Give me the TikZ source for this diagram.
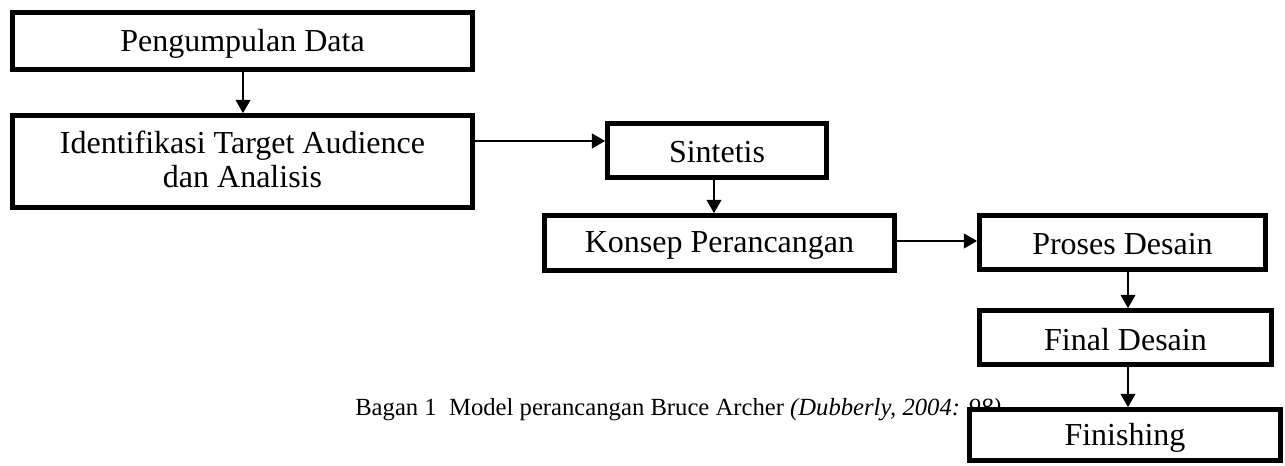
\documentclass[tikz,border=0pt]{standalone}
\usepackage{fontspec}
\setmainfont{Liberation Serif}
\usetikzlibrary{arrows.meta}
\newdimen\pxu \pxu=0.75pt
\newcommand{\lowertext}[2]{\raisebox{-#1\pxu}[\height][\depth]{#2}}
\begin{document}
\begin{tikzpicture}[x=0.75pt,y=-0.75pt,
  box/.style={draw=black,line width=3.5pt,fill=white,inner sep=0pt,align=center,
    font=\fontsize{24}{26}\selectfont},
  arr/.style={line width=1.5pt,-{Triangle[length=10pt,width=11pt]}},
  captext/.style={font=\fontsize{18.5}{20}\selectfont,inner sep=0pt,anchor=base west}]
\useasboundingbox[fill=white] (0,0) rectangle (1285,466);
\node[box,minimum width=460\pxu,minimum height=57\pxu] (A) at (242.5,41) {\lowertext{3}{Pengumpulan Data}};
\node[box,minimum width=460\pxu,minimum height=92\pxu] (B) at (242.5,161.5) {\lowertext{2}{\begin{tabular}{@{}c@{}}Identifikasi Target Audience\\dan Analisis\end{tabular}}};
\node[box,minimum width=219\pxu,minimum height=54\pxu] (C) at (717,150.5) {\lowertext{2}{Sintetis}};
\node[box,minimum width=350\pxu,minimum height=55\pxu] (D) at (719.5,243) {\lowertext{2}{Konsep Perancangan}};
\node[box,minimum width=286\pxu,minimum height=54\pxu] (E) at (1122.5,242.5) {\lowertext{2}{Proses Desain}};
\node[box,minimum width=292\pxu,minimum height=54\pxu] (F) at (1125.5,337.5) {\lowertext{2}{Final Desain}};
\node[captext] (cp) at (355,416) {Bagan 1\ \ Model perancangan Bruce Archer \textit{(Dubberly, 2004: 98)}};
\node[box,minimum width=311\pxu,minimum height=51\pxu] (G) at (1125,435) {\lowertext{3}{Finishing}};
\draw[arr] (A.south -| 243,0) -- (B.north -| 243,0);
\draw[arr] (B.east |- 0,141) -- (C.west |- 0,141);
\draw[arr] (C.south -| 714,0) -- (D.north -| 714,0);
\draw[arr] (D.east |- 0,241) -- (E.west |- 0,241);
\draw[arr] (E.south -| 1128,0) -- (F.north -| 1128,0);
\draw[arr] (F.south -| 1128,0) -- (G.north -| 1128,0);
\end{tikzpicture}
\end{document}
